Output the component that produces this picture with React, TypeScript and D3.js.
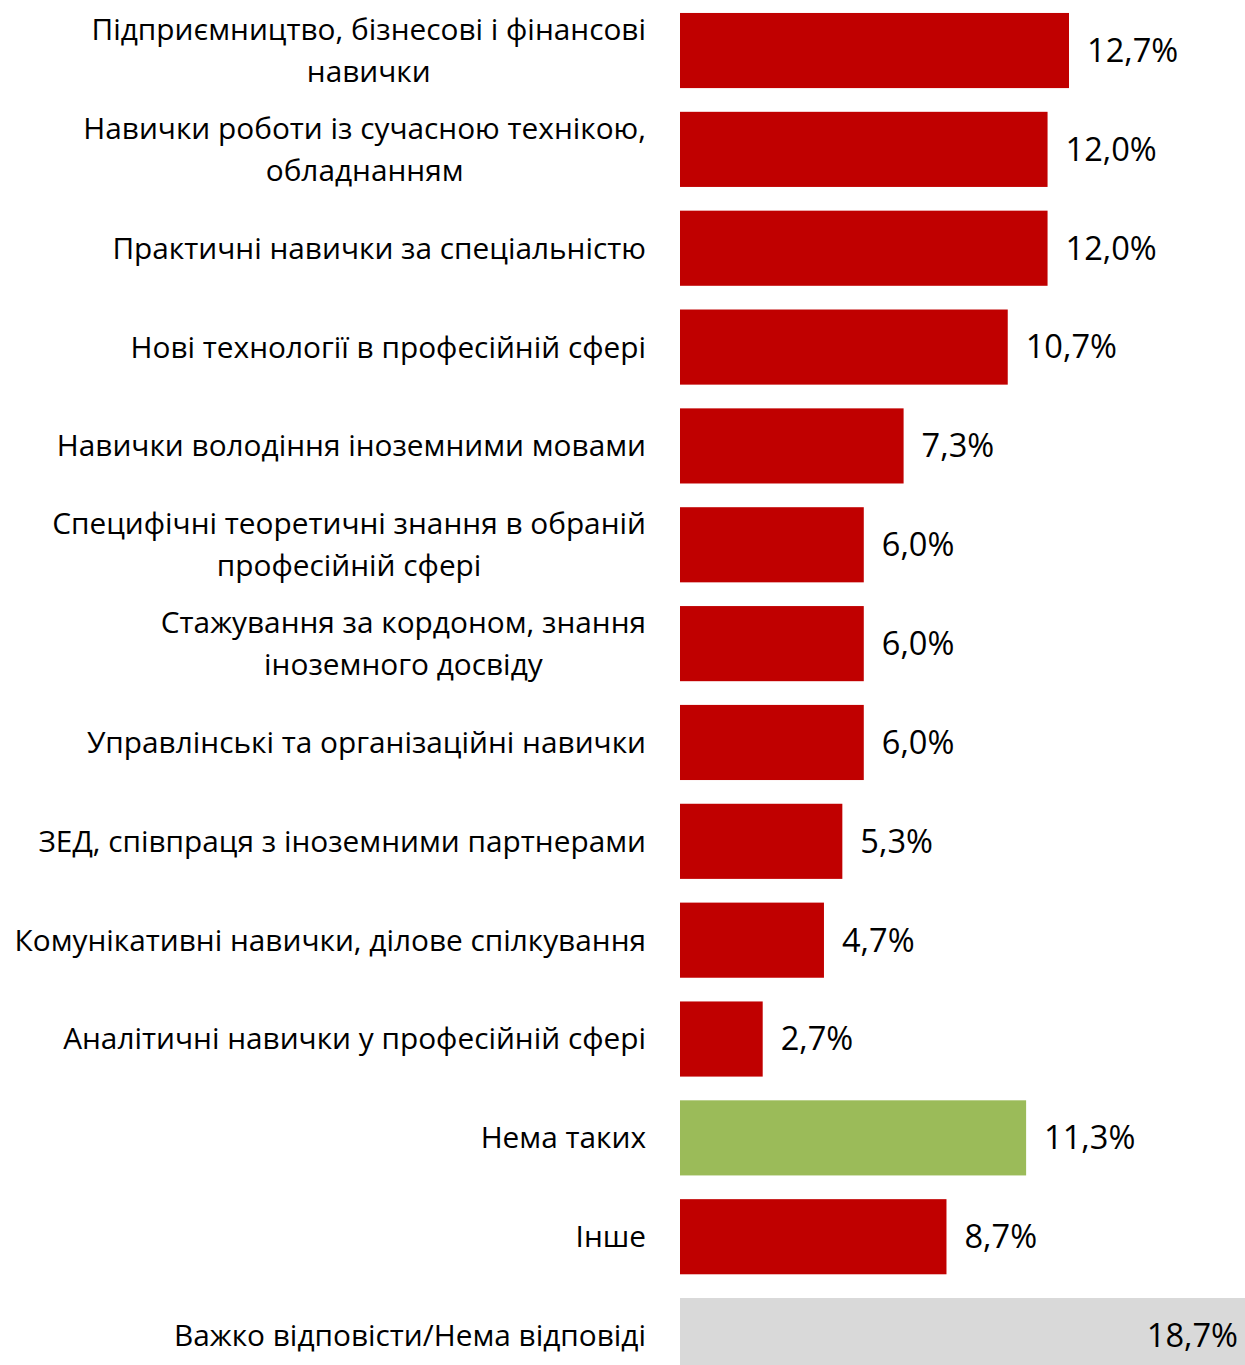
import * as d3 from 'd3';

const categories = [
  'Підприємництво, бізнесові і фінансові\nнавички',
  'Навички роботи із сучасною технікою,\nобладнанням',
  'Практичні навички за спеціальністю',
  'Нові технології в професійній сфері',
  'Навички володіння іноземними мовами',
  'Специфічні теоретичні знання в обраній\nпрофесійній сфері',
  'Стажування за кордоном, знання\nіноземного досвіду',
  'Управлінські та організаційні навички',
  'ЗЕД, співпраця з іноземними партнерами',
  'Комунікативні навички, ділове спілкування',
  'Аналітичні навички у професійній сфері',
  'Нема таких',
  'Інше',
  'Важко відповісти/Нема відповіді',
];

const values = [12.7, 12.0, 12.0, 10.7, 7.3, 6.0, 6.0, 6.0, 5.3, 4.7, 2.7, 11.3, 8.7, 18.7];

const colors = [
  '#C00000', '#C00000', '#C00000', '#C00000', '#C00000', '#C00000', '#C00000',
  '#C00000', '#C00000', '#C00000', '#C00000', '#9BBB59', '#C00000', '#D9D9D9',
];

const WIDTH = 1245;
const HEIGHT = 1365;
const FONT = '"Open Sans", sans-serif';
const LABEL_SIZE = 29.8;
const VALUE_SIZE = 32.6;

// measure text width so wrapped labels can be centred within their block
const ctx = document.createElement('canvas').getContext('2d');
function textWidth(s: string, size: number) {
  if (!ctx) return s.length * size * 0.5;
  ctx.font = `${size}px "Open Sans", sans-serif`;
  return ctx.measureText(s).width;
}

export default function App() {
  const x = d3.scaleLinear().domain([0, 20]).range([680, 680 + 20 * 30.63]);
  const y = d3
    .scaleBand<string>()
    .domain(categories)
    .range([1.1, 1385])
    .paddingInner(0.24)
    .paddingOuter(0.12);

  const fmt = (v: number) => v.toFixed(1).replace('.', ',') + '%';
  const labelRight = 646;

  return (
    <svg
      width={WIDTH}
      height={HEIGHT}
      style={{ position: 'absolute', left: 0, top: 0 }}
      fontFamily={FONT}
    >
      <rect width={WIDTH} height={HEIGHT} fill="#fff" />
      {categories.map((c, i) => {
        const top = y(c)!;
        const cy = top + y.bandwidth() / 2;
        const lines = c.split('\n');
        const maxW = d3.max(lines, (l) => textWidth(l, LABEL_SIZE)) ?? 0;
        const center = labelRight - maxW / 2;
        const end = x(values[i]);
        const inside = end + 110 > WIDTH;
        return (
          <g key={c}>
            <rect
              x={x(0)}
              y={top}
              width={end - x(0)}
              height={y.bandwidth()}
              fill={colors[i]}
            />
            {lines.map((l, j) => (
              <text
                key={j}
                x={lines.length > 1 ? center : labelRight}
                y={cy + (j - (lines.length - 1) / 2) * 42}
                dy="0.35em"
                textAnchor={lines.length > 1 ? 'middle' : 'end'}
                fontSize={LABEL_SIZE}
                fill="#000"
              >
                {l}
              </text>
            ))}
            <text
              x={inside ? WIDTH - 7 : end + 18}
              y={cy}
              dy="0.35em"
              textAnchor={inside ? 'end' : 'start'}
              fontSize={VALUE_SIZE}
              fill="#000"
            >
              {fmt(values[i])}
            </text>
          </g>
        );
      })}
    </svg>
  );
}
